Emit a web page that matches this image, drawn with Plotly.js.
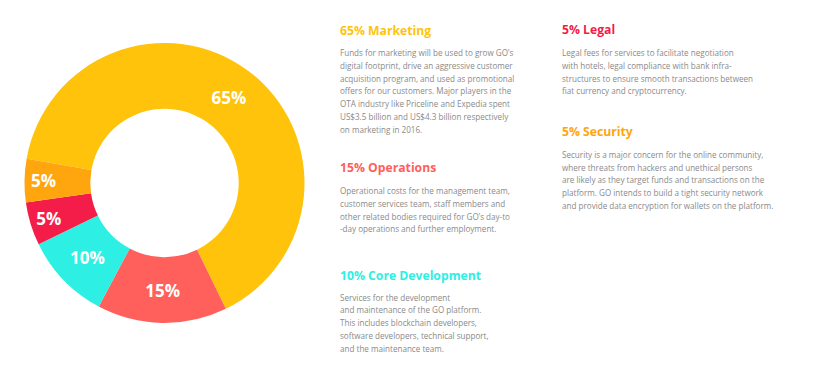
<!DOCTYPE html>
<html>
<head>
<meta charset="utf-8">
<script src="https://cdn.plot.ly/plotly-3.0.1.min.js"></script>
<style>html,body{margin:0;padding:0;background:#fff;}#chart{width:813px;height:385px;}</style>
</head>
<body>
<div id="chart"></div>
<script>
// ---- data ----
const categories = ["Marketing", "Operations", "Core Development", "Legal", "Security"];
const values = [65, 15, 10, 5, 5];
const colors = ["#FFC30B", "#FF605B", "#2DEFE3", "#F41C48", "#FFA60E"];
const sliceLabels = ["65%", "15%", "10%", "5%", "5%"];

const headings = ["65% Marketing", "15% Operations", "10% Core Development", "5% Legal", "5% Security"];
const headingColors = ["#FFC30B", "#FF605B", "#2DEFE3", "#F41C48", "#FFA60E"];
const bodyMarketing = [
  "Funds for marketing will be used to grow GO\u2019s",
  "digital footprint, drive an aggressive customer",
  "acquisition program, and used as promotional",
  "offers for our customers. Major players in the",
  "OTA industry like Priceline and Expedia spent",
  "US$3.5 billion and US$4.3 billion respectively",
  "on marketing in 2016."
];
const bodyOperations = [
  "Operational costs for the management team,",
  "customer services team, staff members and",
  "other related bodies required for GO\u2019s day-to",
  "-day operations and further employment."
];
const bodyCore = [
  "Services for the development",
  "and maintenance of the GO platform.",
  "This includes blockchain developers,",
  "software developers, technical support,",
  "and the maintenance team."
];
const bodyLegal = [
  "Legal fees for services to facilitate negotiation",
  "with hotels, legal compliance with bank infra-",
  "structures to ensure smooth transactions between",
  "fiat currency and cryptocurrency."
];
const bodySecurity = [
  "Security is a major concern for the online community,",
  "where threats from hackers and unethical persons",
  "are likely as they target funds and transactions on the",
  "platform. GO intends to build a tight security network",
  "and provide data encryption for wallets on the platform."
];
const bodies = [bodyMarketing, bodyOperations, bodyCore, bodyLegal, bodySecurity];

// ---- layout helpers ----
const W = 813, H = 385;
const blocks = [
  {x: 338, titleY: 30, bodyY: 52.5},
  {x: 338, titleY: 167.5, bodyY: 190.5},
  {x: 338, titleY: 275, bodyY: 297},
  {x: 560, titleY: 29.5, bodyY: 52.5},
  {x: 560, titleY: 131, bodyY: 154.3}
];
const lineStep = 12.8;
const FONT = "'Open Sans', 'Noto Sans', sans-serif";

const annotations = [];
blocks.forEach((b, i) => {
  annotations.push({
    xref: "paper", yref: "paper", x: b.x / W, y: 1 - b.titleY / H,
    xanchor: "left", yanchor: "middle", showarrow: false,
    text: "<b>" + headings[i] + "</b>",
    font: {family: FONT, size: 12.2, color: headingColors[i]}
  });
  bodies[i].forEach((line, j) => {
    annotations.push({
      xref: "paper", yref: "paper", x: b.x / W, y: 1 - (b.bodyY + j * lineStep) / H,
      xanchor: "left", yanchor: "middle", showarrow: false,
      text: line,
      font: {family: FONT, size: 8.1, color: "#8a8a8a"}
    });
  });
});

const cx = 164.5, cy = 183, R = 140;
const trace = {
  type: "pie",
  labels: categories,
  values: values,
  text: sliceLabels,
  textinfo: "text",
  texttemplate: "<b>%{text}</b>",
  textposition: "inside",
  insidetextorientation: "horizontal",
  insidetextfont: {family: FONT, size: 17, color: "#ffffff"},
  marker: {colors: colors, line: {width: 0}},
  hole: 0.53,
  sort: false,
  direction: "clockwise",
  rotation: 280,
  showlegend: false,
  hoverinfo: "label+percent",
  domain: {x: [(cx - R) / W, (cx + R) / W], y: [1 - (cy + R) / H, 1 - (cy - R) / H]}
};

const layout = {
  width: W, height: H,
  margin: {l: 0, r: 0, t: 0, b: 0},
  paper_bgcolor: "#ffffff",
  plot_bgcolor: "#ffffff",
  showlegend: false,
  annotations: annotations
};

Plotly.newPlot("chart", [trace], layout, {displayModeBar: false, staticPlot: true});
</script>
</body>
</html>
